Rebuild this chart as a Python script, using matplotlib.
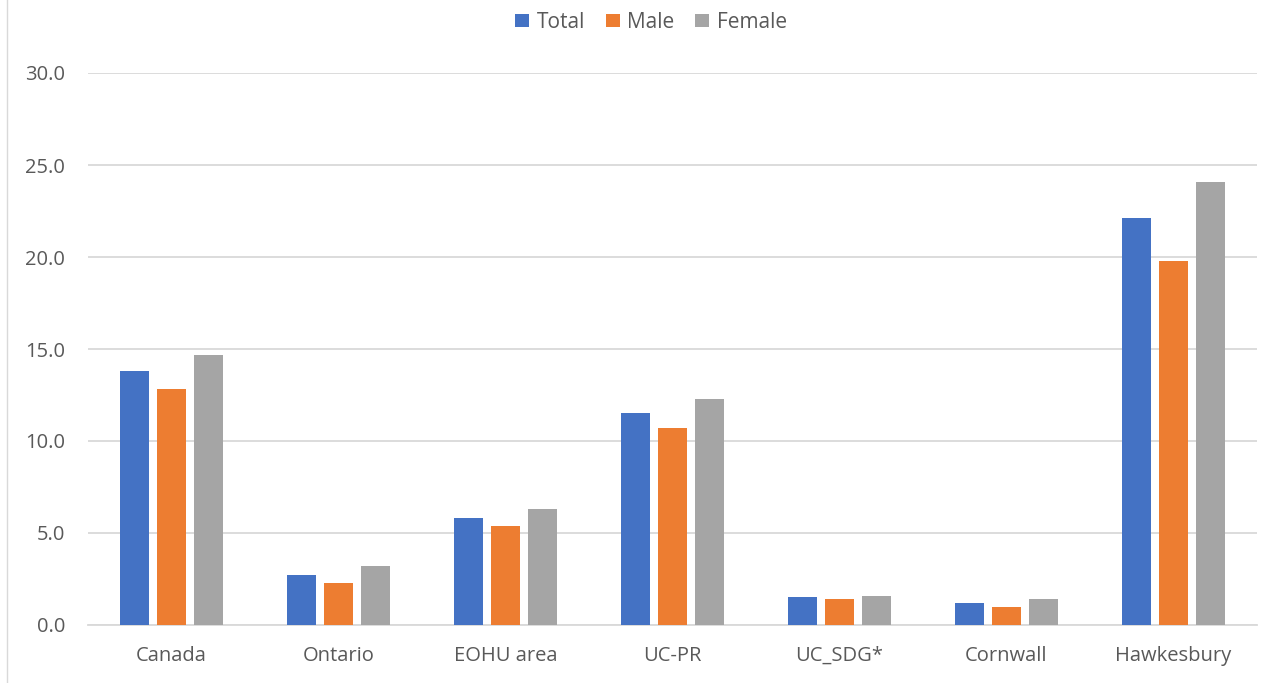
import matplotlib
matplotlib.use("Agg")
import matplotlib.pyplot as plt
import numpy as np
from matplotlib.lines import Line2D

categories = ["Canada", "Ontario", "EOHU area", "UC-PR", "UC_SDG*", "Cornwall", "Hawkesbury"]
total = [13.8, 2.7, 5.8, 11.5, 1.5, 1.2, 22.1]
male = [12.8, 2.3, 5.4, 10.7, 1.4, 1.0, 19.8]
female = [14.7, 3.2, 6.3, 12.3, 1.6, 1.4, 24.1]
series_names = ["Total", "Male", "Female"]
colors = ["#4472C4", "#ED7D31", "#A5A5A5"]
yticks = [0, 5, 10, 15, 20, 25, 30]

plt.rcParams['font.family'] = ['Open Sans', 'DejaVu Sans']

W, H = 1277, 683
fig = plt.figure(figsize=(W / 100, H / 100), dpi=100)
ax = fig.add_axes([88 / W, 1 - 625 / H, (1257 - 88) / W, (625 - 73) / H])

x = np.arange(len(categories))
bw = 29 / 167
step = 37 / 167
for i, (vals, name, c) in enumerate(zip([total, male, female], series_names, colors)):
    ax.bar(x + (i - 1) * step, vals, width=bw, color=c, label=name, zorder=3)

ax.set_xlim(-0.5, len(categories) - 0.5)
ax.set_ylim(0, 30)
ax.set_yticks(yticks)
ax.set_yticklabels([f"{v:.1f}" for v in yticks])
ax.set_xticks(x)
ax.set_xticklabels(categories)
ax.grid(axis='y', color='#D9D9D9', linewidth=1.3, zorder=0)
for s in ['top', 'right', 'left']:
    ax.spines[s].set_visible(False)
ax.spines['bottom'].set_color('#D9D9D9')
ax.spines['bottom'].set_linewidth(1.3)
ax.tick_params(axis='both', length=0, labelsize=14.5, colors='#595959')
ax.tick_params(axis='x', pad=15)
ax.tick_params(axis='y', pad=16.5)

leg = fig.legend(loc='center', bbox_to_anchor=(651 / W, 1 - 22 / H), ncol=3, frameon=False,
                 fontsize=15, handlelength=0.67, handleheight=0.6, handletextpad=0.38,
                 columnspacing=0.96)
for t in leg.get_texts():
    t.set_color('#595959')

fig.add_artist(Line2D([7 / W, 7 / W], [0, 1], transform=fig.transFigure, color='#D9D9D9', linewidth=1))

fig.savefig("out.png", dpi=100)
